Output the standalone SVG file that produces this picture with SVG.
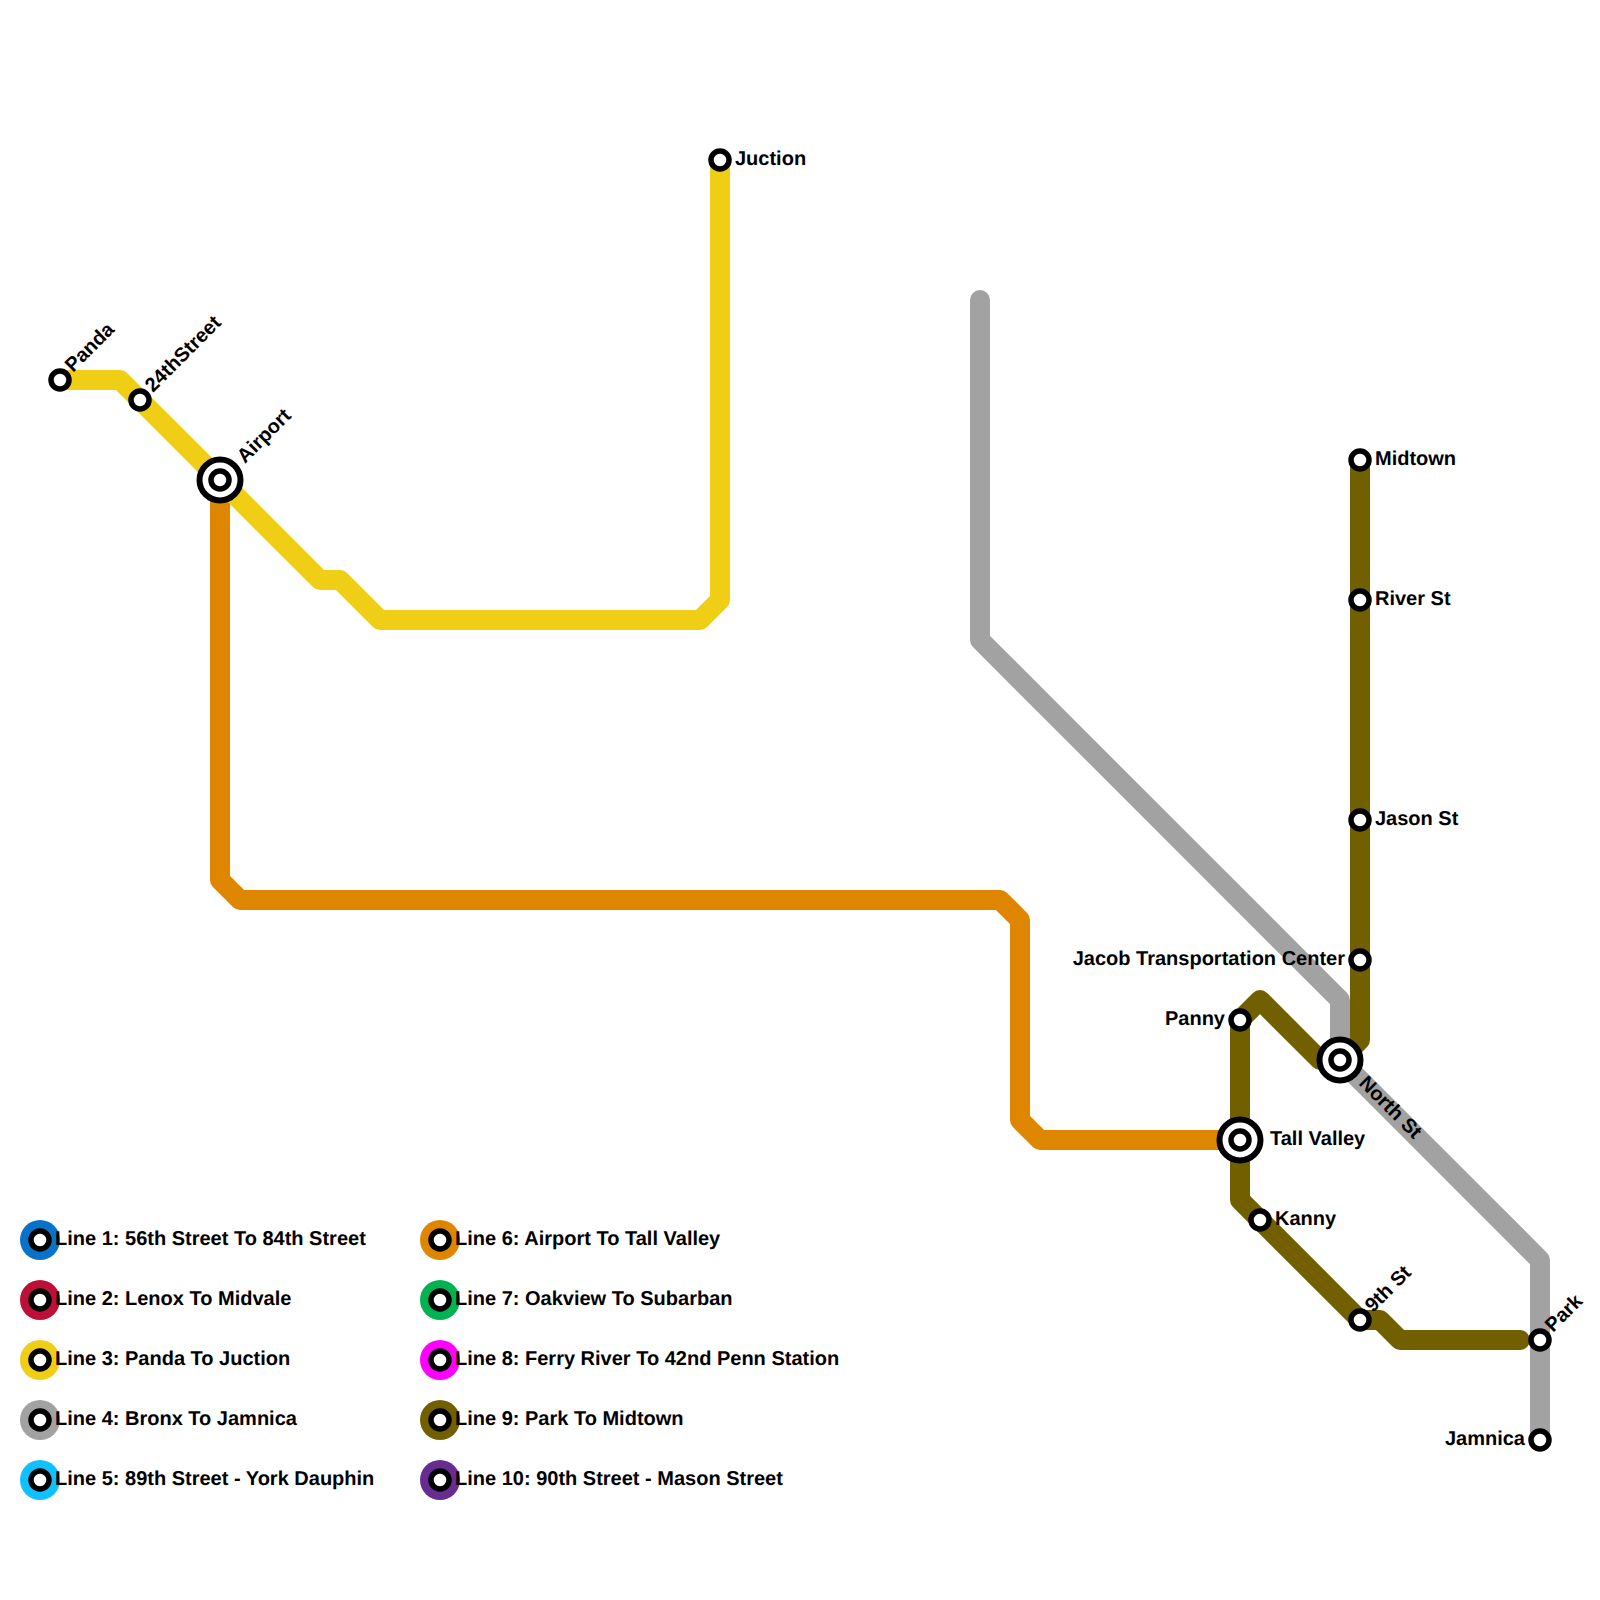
<svg xmlns="http://www.w3.org/2000/svg" width="1600" height="1600" viewBox="0 0 1600 1600">
<style>
.l{fill:none;stroke-width:20;stroke-linecap:round;stroke-linejoin:round}
.s{fill:#fff;stroke:#000;stroke-width:5.5}
.o{fill:#fff;stroke:#000;stroke-width:6}
text{font-family:"Liberation Sans",Arial,sans-serif;font-weight:700;font-size:20px;fill:#000;text-rendering:geometricPrecision}
.e{text-anchor:end}
</style>
<defs>
<g id="st"><circle class="s" r="9"/></g>
<g id="ic"><circle class="o" r="20.5"/><circle class="s" r="9"/></g>
</defs>
<rect width="1600" height="1600" fill="#fff"/>
<g id="connectors">
<path class="l" stroke="#726000" d="M1360 460V1040L1340 1060"/>
<path class="l" stroke="#726000" d="M1320 1060L1260 1000L1240 1020V1200L1360 1320H1380L1400 1340H1520"/>
<path class="l" stroke="#df8600" d="M220 480V880L240 900H1000L1020 920V1120L1040 1140H1240"/>
<path class="l" stroke="#f0ce15" d="M60 380H120L320 580H340L380 620H700L720 600V160"/>
<path class="l" stroke="#a2a2a2" d="M980 300V640L1340 1000V1060L1540 1260V1440"/>
</g>
<g id="airport"><use href="#ic" x="220" y="480"/><text transform="translate(245 464) rotate(-45)">Airport</text></g>
<g id="panda"><use href="#st" x="60" y="380"/><text transform="translate(73 373) rotate(-45)">Panda</text></g>
<g id="s24th"><use href="#st" x="140" y="400"/><text transform="translate(153 393) rotate(-45)">24thStreet</text></g>
<g id="juction"><use href="#st" x="720" y="160"/><text x="735" y="165">Juction</text></g>
<g id="midtown"><use href="#st" x="1360" y="460"/><text x="1375" y="465">Midtown</text></g>
<g id="river"><use href="#st" x="1360" y="600"/><text x="1375" y="605">River St</text></g>
<g id="jason"><use href="#st" x="1360" y="820"/><text x="1375" y="825">Jason St</text></g>
<g id="jacob"><use href="#st" x="1360" y="960"/><text class="e" x="1345" y="965">Jacob Transportation Center</text></g>
<g id="panny"><use href="#st" x="1240" y="1020"/><text class="e" x="1225" y="1025">Panny</text></g>
<g id="north"><use href="#ic" x="1340" y="1060"/><text transform="translate(1358 1084) rotate(45)">North St</text></g>
<g id="tall"><use href="#ic" x="1240" y="1140"/><text x="1270" y="1145">Tall Valley</text></g>
<g id="kanny"><use href="#st" x="1260" y="1220"/><text x="1275" y="1225">Kanny</text></g>
<g id="ninth"><use href="#st" x="1360" y="1320"/><text transform="translate(1373 1313) rotate(-45)">9th St</text></g>
<g id="park"><use href="#st" x="1540" y="1340"/><text transform="translate(1553 1333) rotate(-45)">Park</text></g>
<g id="jamnica"><use href="#st" x="1540" y="1440"/><text class="e" x="1525" y="1445">Jamnica</text></g>
<g id="legend">
<g id="lg1"><circle cx="40" cy="1240" r="20" fill="#0872c9"/><use href="#st" x="40" y="1240"/><text x="55" y="1245">Line 1: 56th Street To 84th Street</text></g>
<g id="lg2"><circle cx="40" cy="1300" r="20" fill="#bd1038"/><use href="#st" x="40" y="1300"/><text x="55" y="1305">Line 2: Lenox To Midvale</text></g>
<g id="lg3"><circle cx="40" cy="1360" r="20" fill="#f0ce15"/><use href="#st" x="40" y="1360"/><text x="55" y="1365">Line 3: Panda To Juction</text></g>
<g id="lg4"><circle cx="40" cy="1420" r="20" fill="#a2a2a2"/><use href="#st" x="40" y="1420"/><text x="55" y="1425">Line 4: Bronx To Jamnica</text></g>
<g id="lg5"><circle cx="40" cy="1480" r="20" fill="#11c1ff"/><use href="#st" x="40" y="1480"/><text x="55" y="1485">Line 5: 89th Street - York Dauphin</text></g>
<g id="lg6"><circle cx="440" cy="1240" r="20" fill="#df8600"/><use href="#st" x="440" y="1240"/><text x="455" y="1245">Line 6: Airport To Tall Valley</text></g>
<g id="lg7"><circle cx="440" cy="1300" r="20" fill="#00b251"/><use href="#st" x="440" y="1300"/><text x="455" y="1305">Line 7: Oakview To Subarban</text></g>
<g id="lg8"><circle cx="440" cy="1360" r="20" fill="#ff00ff"/><use href="#st" x="440" y="1360"/><text x="455" y="1365">Line 8: Ferry River To 42nd Penn Station</text></g>
<g id="lg9"><circle cx="440" cy="1420" r="20" fill="#726000"/><use href="#st" x="440" y="1420"/><text x="455" y="1425">Line 9: Park To Midtown</text></g>
<g id="lg10"><circle cx="440" cy="1480" r="20" fill="#662c90"/><use href="#st" x="440" y="1480"/><text x="455" y="1485">Line 10: 90th Street - Mason Street</text></g>
</g>
</svg>
